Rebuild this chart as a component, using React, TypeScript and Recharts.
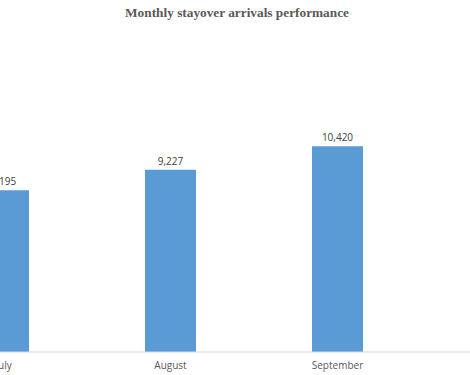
import { Bar, BarChart, LabelList, XAxis, YAxis } from "recharts"

const MONTHS = ["July", "August", "September"]
const ARRIVALS = [8195, 9227, 10420]

const data = MONTHS.map((month, i) => ({ month, arrivals: ARRIVALS[i] }))

const fmt = (v: number) => v.toLocaleString("en-US")

export default function App() {
  return (
    <div
      style={{
        position: "fixed",
        left: 0,
        top: 0,
        width: 470,
        height: 375,
        overflow: "hidden",
        background: "#fff",
      }}
    >
      <div
        style={{
          position: "absolute",
          top: 5,
          left: 0,
          width: 474,
          textAlign: "center",
          fontFamily: "'Liberation Serif', serif",
          fontWeight: "bold",
          fontSize: 13.3,
          color: "#595959",
        }}
      >
        Monthly stayover arrivals performance
      </div>
      {/* plot is wider than the window: July is cut at the left edge */}
      <div style={{ position: "absolute", left: -80, top: 0 }}>
        <BarChart
          width={550}
          height={375}
          data={data}
          margin={{ top: 115, right: 0, left: 0, bottom: 0 }}
          barSize={51}
        >
          <XAxis
            dataKey="month"
            height={23}
            tickLine={false}
            tickMargin={4}
            axisLine={{ stroke: "#d9d9d9" }}
            padding={{ left: 0, right: 49 }}
            tick={{ fill: "#595959", fontSize: 10, fontFamily: "'Open Sans', sans-serif" }}
          />
          <YAxis hide domain={[0, 12000]} />
          <Bar dataKey="arrivals" fill="#5b9bd5" isAnimationActive={false}>
            <LabelList
              dataKey="arrivals"
              position="top"
              formatter={(v: number) => fmt(v)}
              style={{ fill: "#404040", fontSize: 10, fontFamily: "'Open Sans', sans-serif" }}
            />
          </Bar>
        </BarChart>
      </div>
    </div>
  )
}
